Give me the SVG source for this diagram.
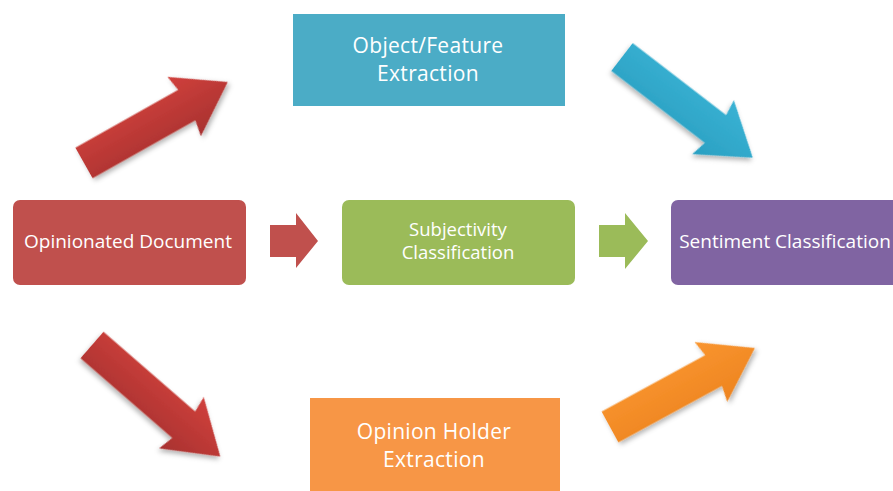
<svg xmlns="http://www.w3.org/2000/svg" width="893" height="491" viewBox="0 0 893 491">
<defs>
<filter id="sh" x="-20%" y="-20%" width="140%" height="150%">
<feDropShadow dx="1" dy="3" stdDeviation="2.5" flood-color="#000" flood-opacity="0.3"/>
</filter>
<linearGradient id="gRed" x1="0" y1="0" x2="0" y2="1"><stop offset="0" stop-color="#D0403C"/><stop offset="1" stop-color="#A83230"/></linearGradient>
<linearGradient id="gCyan" x1="0" y1="0" x2="0" y2="1"><stop offset="0" stop-color="#3AB2D4"/><stop offset="1" stop-color="#2AA0C2"/></linearGradient>
<linearGradient id="gOrange" x1="0" y1="0" x2="0" y2="1"><stop offset="0" stop-color="#F9952F"/><stop offset="1" stop-color="#EE8420"/></linearGradient>
<path id="bigArrow" d="M0,-17.5 L118,-17.5 L115,-34 L165,0 L115,34 L118,17.5 L0,17.5 Z"/>
</defs>
<style>
.lbl{font-family:"Open Sans","Liberation Sans",sans-serif;fill:#fff;text-anchor:middle}
.big{font-size:21px;letter-spacing:0.3px}
</style>
<rect width="893" height="491" fill="#fff"/>
<g id="connectors">
<use href="#bigArrow" fill="url(#gRed)" filter="url(#sh)" transform="translate(84,163) rotate(-29.4)"/>
<use href="#bigArrow" fill="url(#gCyan)" filter="url(#sh)" transform="translate(622,57) rotate(37.6)"/>
<use href="#bigArrow" fill="url(#gRed)" filter="url(#sh)" transform="translate(92,345) rotate(41) scale(1.03,1)"/>
<use href="#bigArrow" fill="url(#gOrange)" filter="url(#sh)" transform="translate(610,427) rotate(-28.6)"/>
<path d="M270,225 L296,225 L296,213 L318,241 L296,268 L296,257 L270,257 Z" fill="#C0504D"/>
<path d="M599,225 L625,225 L625,213 L648,241 L625,269 L625,257 L599,257 Z" fill="#9BBB59"/>
</g>
<g id="opinionated">
<rect x="13" y="200" width="233" height="85" rx="7" fill="#C0504D"/>
<text class="lbl" x="128" y="248" font-size="19">Opinionated Document</text>
</g>
<g id="subjectivity">
<rect x="342" y="200" width="233" height="85" rx="7" fill="#9BBB59"/>
<text class="lbl" x="458" y="236" font-size="18.5">Subjectivity</text>
<text class="lbl" x="458" y="259" font-size="18.5">Classification</text>
</g>
<g id="sentiment">
<rect x="671" y="200" width="240" height="85" rx="7" fill="#8064A2"/>
<text class="lbl" x="785" y="248" font-size="19">Sentiment Classification</text>
</g>
<g id="object">
<rect x="293" y="14" width="272" height="92" fill="#4BACC6"/>
<text class="lbl big" x="428" y="52.5">Object/Feature</text>
<text class="lbl big" x="428" y="80.5">Extraction</text>
</g>
<g id="holder">
<rect x="310" y="398" width="250" height="93" fill="#F79646"/>
<text class="lbl big" x="434" y="438.5">Opinion Holder</text>
<text class="lbl big" x="434" y="466.5">Extraction</text>
</g>
</svg>
